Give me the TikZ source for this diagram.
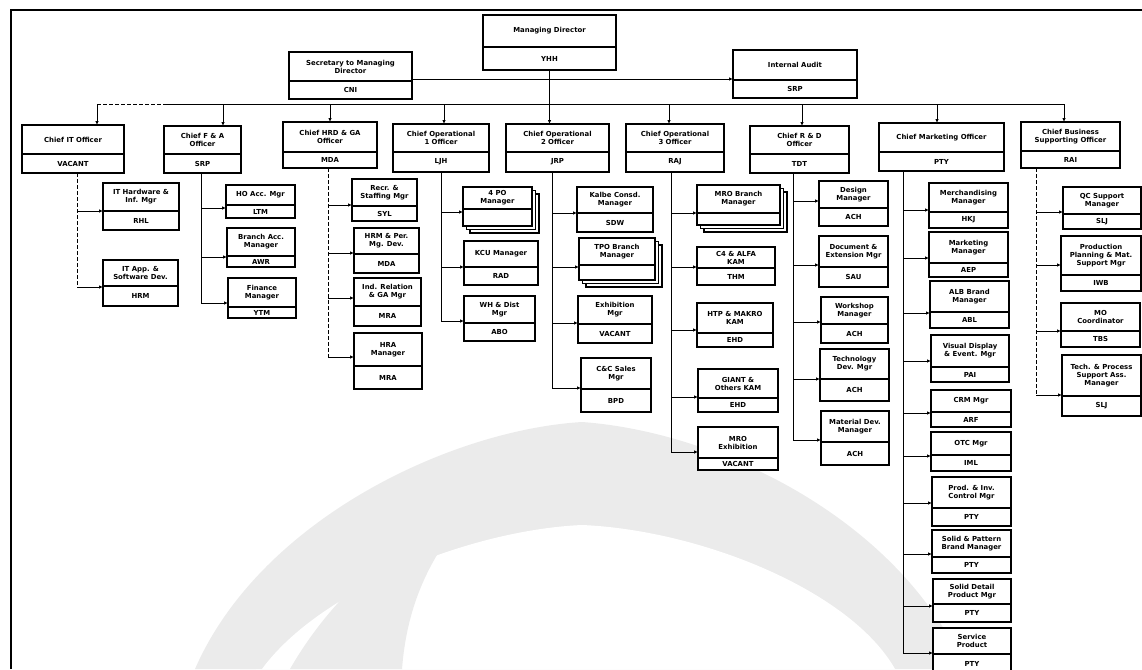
\documentclass[tikz,border=0pt]{standalone}
\usepackage{fontspec}
\setmainfont{DejaVu Sans}
\usetikzlibrary{arrows.meta,calc}

\tikzset{
  obox/.style={draw,line width=1.2pt,inner sep=0pt,outer sep=0pt,fill=white},
  otext/.style={font=\fontsize{6.9}{8}\selectfont\bfseries,align=center,inner sep=0pt},
  conn/.style={line width=1pt,-{Latex[length=4pt,width=3.5pt]}},
  spine/.style={line width=1pt},
  dashspine/.style={line width=1pt,dash pattern=on 4pt off 2pt},
}

% box with a name line and an initials line
\newcommand{\orgbox}[9]{%
  \node[obox,anchor=north west,minimum width={(#4-#2)*1pt},minimum height={(#5-#3)*1pt}] (#1) at (#2,#3) {};
  \draw[line width=1.2pt] (#2,#6) -- (#4,#6);
  \node[otext] (#1-top) at ({(#2+#4)/2},{(#3+#6)/2}) {#7};
  \node[otext] (#1-bot) at ({(#2+#4)/2},{(#6+#5)/2}) {#8};
  \coordinate (#1-in) at (#2,#9);
}
% two boxes stacked behind
\newcommand{\stackback}[4]{%
  \draw[obox] (#1+7,#2+7) rectangle (#3+7,#4+7);
  \draw[obox] (#1+3.5,#2+3.5) rectangle (#3+3.5,#4+3.5);
}

\begin{document}
\begin{tikzpicture}[x=1pt,y=-1pt]
\useasboundingbox (0,0) rectangle (1142,669);

% watermark
\fill[gray!16] (195,669) .. controls (260,520) and (450,430) .. (582,422) .. controls (720,432) and (900,520) .. (965,669) -- cycle;
\fill[white] (262,669) .. controls (320,590) and (470,530) .. (582,525) .. controls (700,530) and (850,590) .. (895,669) -- cycle;
\fill[gray!16] (290,669) .. controls (330,600) and (380,560) .. (410,545) -- (440,550) .. controls (415,590) and (405,630) .. (402,669) -- cycle;
\fill[gray!16] (240,669) -- (250,588) -- (256,669) -- cycle;

% frame
\draw[line width=1.2pt] (11,669) -- (11,10) -- (1142,10);

% top
\orgbox{md}{483}{15}{616}{70}{47}{Managing Director}{YHH}{0}
\orgbox{sec}{289}{52}{412}{99}{81}{Secretary to Managing\\Director}{CNI}{79}
\orgbox{ia}{733}{50}{857}{98}{80}{Internal Audit}{SRP}{79}

% chiefs
\orgbox{cit}{22}{125}{124}{173}{154}{Chief IT Officer}{VACANT}{0}
\orgbox{cfa}{164}{126}{241}{173}{154}{Chief F \& A\\Officer}{SRP}{0}
\orgbox{chr}{283}{122}{377}{168}{152}{Chief HRD \& GA\\Officer}{MDA}{0}
\orgbox{co1}{393}{124}{489}{172}{152}{Chief Operational\\1 Officer}{LJH}{0}
\orgbox{co2}{506}{124}{609}{172}{152}{Chief Operational\\2 Officer}{JRP}{0}
\orgbox{co3}{626}{124}{724}{172}{152}{Chief Operational\\3 Officer}{RAJ}{0}
\orgbox{crd}{750}{126}{849}{173}{154}{Chief R \& D\\Officer}{TDT}{0}
\orgbox{cmk}{879}{123}{1004}{171}{152}{Chief Marketing Officer}{PTY}{0}
\orgbox{cbs}{1021}{122}{1120}{168}{151}{Chief Business\\Supporting Officer}{RAI}{0}

% IT
\orgbox{ith}{103}{183}{179}{230}{211}{IT Hardware \&\\Inf. Mgr}{RHL}{211}
\orgbox{ita}{103}{260}{178}{306}{286}{IT App. \&\\Software Dev.}{HRM}{287}
% F & A
\orgbox{hoa}{226}{185}{295}{218}{205}{HO Acc. Mgr}{LTM}{208}
\orgbox{bra}{227}{228}{295}{267}{256}{Branch Acc.\\Manager}{AWR}{257}
\orgbox{fin}{228}{278}{296}{318}{307}{Finance\\Manager}{YTM}{303}
% HRD & GA
\orgbox{rec}{352}{179}{417}{221}{206}{Recr. \&\\Staffing Mgr}{SYL}{205}
\orgbox{hrm}{354}{228}{419}{273}{254}{HRM \& Per.\\Mg. Dev.}{MDA}{253}
\orgbox{ind}{354}{278}{421}{326}{306}{Ind. Relation\\\& GA Mgr}{MRA}{298}
\orgbox{hra}{354}{333}{422}{389}{366}{HRA\\Manager}{MRA}{357}
% operational 1
\stackback{463}{187}{532}{226}
\orgbox{pom}{463}{187}{532}{226}{209}{4 PO\\Manager}{}{212}
\orgbox{kcu}{464}{241}{538}{285}{267}{KCU Manager}{RAD}{267}
\orgbox{whd}{464}{296}{535}{341}{323}{WH \& Dist\\Mgr}{ABO}{321}
% operational 2
\orgbox{kcm}{577}{187}{653}{232}{213}{Kalbe Consd.\\Manager}{SDW}{213}
\stackback{579}{238}{655}{280}
\orgbox{tpo}{579}{238}{655}{280}{265}{TPO Branch\\Manager}{}{267}
\orgbox{exm}{578}{296}{652}{343}{324}{Exhibition\\Mgr}{VACANT}{323}
\orgbox{ccs}{581}{358}{651}{412}{389}{C\&C Sales\\Mgr}{BPD}{388}
% operational 3
\stackback{697}{185}{780}{225}
\orgbox{mro}{697}{185}{780}{225}{213}{MRO Branch\\Manager}{}{213}
\orgbox{c4a}{697}{247}{775}{285}{268}{C4 \& ALFA\\KAM}{THM}{267}
\orgbox{htp}{697}{303}{773}{347}{333}{HTP \& MAKRO\\KAM}{EHD}{330}
\orgbox{gnt}{698}{369}{778}{412}{398}{GIANT \&\\Others KAM}{EHD}{397}
\orgbox{mre}{698}{427}{778}{470}{458}{MRO\\Exhibition}{VACANT}{452}
% R & D
\orgbox{dsm}{819}{181}{888}{226}{208}{Design\\Manager}{ACH}{201}
\orgbox{doc}{819}{236}{888}{287}{267}{Document \&\\Extension Mgr}{SAU}{265}
\orgbox{wsm}{821}{297}{888}{343}{324}{Workshop\\Manager}{ACH}{322}
\orgbox{tdm}{820}{349}{889}{401}{379}{Technology\\Dev. Mgr}{ACH}{379}
\orgbox{mdm}{821}{411}{889}{465}{442}{Material Dev.\\Manager}{ACH}{440}
% marketing
\orgbox{mer}{929}{183}{1008}{228}{212}{Merchandising\\Manager}{HKJ}{210}
\orgbox{mkm}{929}{232}{1008}{277}{263}{Marketing\\Manager}{AEP}{258}
\orgbox{alb}{930}{281}{1009}{328}{312}{ALB Brand\\Manager}{ABL}{313}
\orgbox{vdm}{931}{335}{1009}{382}{367}{Visual Display\\\& Event. Mgr}{PAI}{361}
\orgbox{crm}{931}{390}{1011}{427}{412}{CRM Mgr}{ARF}{413}
\orgbox{otc}{931}{432}{1011}{471}{455}{OTC Mgr}{IML}{456}
\orgbox{pic}{932}{477}{1011}{526}{508}{Prod. \& Inv.\\Control Mgr}{PTY}{503}
\orgbox{spb}{932}{530}{1011}{573}{557}{Solid \& Pattern\\Brand Manager}{PTY}{554}
\orgbox{sdp}{933}{579}{1011}{622}{604}{Solid Detail\\Product Mgr}{PTY}{606}
\orgbox{svp}{933}{628}{1011}{674}{654}{Service\\Product}{PTY}{653}
% business supporting
\orgbox{qcs}{1063}{187}{1141}{229}{214}{QC Support\\Manager}{SLJ}{212}
\orgbox{ppm}{1061}{236}{1141}{291}{275}{Production\\Planning \& Mat.\\Support Mgr}{IWB}{265}
\orgbox{moc}{1061}{303}{1140}{347}{331}{MO\\Coordinator}{TBS}{331}
\orgbox{tps}{1062}{355}{1141}{416}{396}{Tech. \& Process\\Support Ass.\\Manager}{SLJ}{395}

% top links
\coordinate (secR) at (412,79);
\draw[conn] (secR) -- (ia-in);
\coordinate (busL) at (97,104);
\coordinate (busD) at (167,104);
\coordinate (busR) at (1064,104);
\draw[dashspine] (busL) -- (busD);
\draw[conn] (busD) -- (busR) -- (busR |- cbs.north);
\draw[conn] (md.south) -- (md.south |- co2.north);
\foreach \c/\x in {cit/97,cfa/223,chr/330,co1/444,co3/669,crd/802,cmk/937}
  \draw[conn] (\x,104) -- (\c.north -| \x,104);

% spines
\coordinate (sIT) at (cit.south -| 77,0);
\coordinate (sFA) at (cfa.south -| 201,0);
\coordinate (sHR) at (chr.south -| 328,0);
\coordinate (sO1) at (co1.south -| 441,0);
\coordinate (sO2) at (co2.south -| 552,0);
\coordinate (sO3) at (co3.south -| 671,0);
\coordinate (sRD) at (crd.south -| 793,0);
\coordinate (sMK) at (cmk.south -| 903,0);
\coordinate (sBS) at (cbs.south -| 1036,0);

\draw[dashspine] (sIT) -- (ita-in -| sIT);
\draw[spine] (sFA) -- (fin-in -| sFA);
\draw[dashspine] (sHR) -- (hra-in -| sHR);
\draw[spine] (sO1) -- (whd-in -| sO1);
\draw[spine] (sO2) -- (ccs-in -| sO2);
\draw[spine] (sO3) -- (mre-in -| sO3);
\draw[spine] (sRD) -- (mdm-in -| sRD);
\draw[spine] (sMK) -- (svp-in -| sMK);
\draw[dashspine] (sBS) -- (tps-in -| sBS);

\foreach \b in {ith,ita} \draw[conn] (\b-in -| sIT) -- (\b-in);
\foreach \b in {hoa,bra,fin} \draw[conn] (\b-in -| sFA) -- (\b-in);
\foreach \b in {rec,hrm,ind,hra} \draw[conn] (\b-in -| sHR) -- (\b-in);
\foreach \b in {pom,kcu,whd} \draw[conn] (\b-in -| sO1) -- (\b-in);
\foreach \b in {kcm,tpo,exm,ccs} \draw[conn] (\b-in -| sO2) -- (\b-in);
\foreach \b in {mro,c4a,htp,gnt,mre} \draw[conn] (\b-in -| sO3) -- (\b-in);
\foreach \b in {dsm,doc,wsm,tdm,mdm} \draw[conn] (\b-in -| sRD) -- (\b-in);
\foreach \b in {mer,mkm,alb,vdm,crm,otc,pic,spb,sdp,svp} \draw[conn] (\b-in -| sMK) -- (\b-in);
\foreach \b in {qcs,ppm,moc,tps} \draw[conn] (\b-in -| sBS) -- (\b-in);
\end{tikzpicture}
\end{document}
